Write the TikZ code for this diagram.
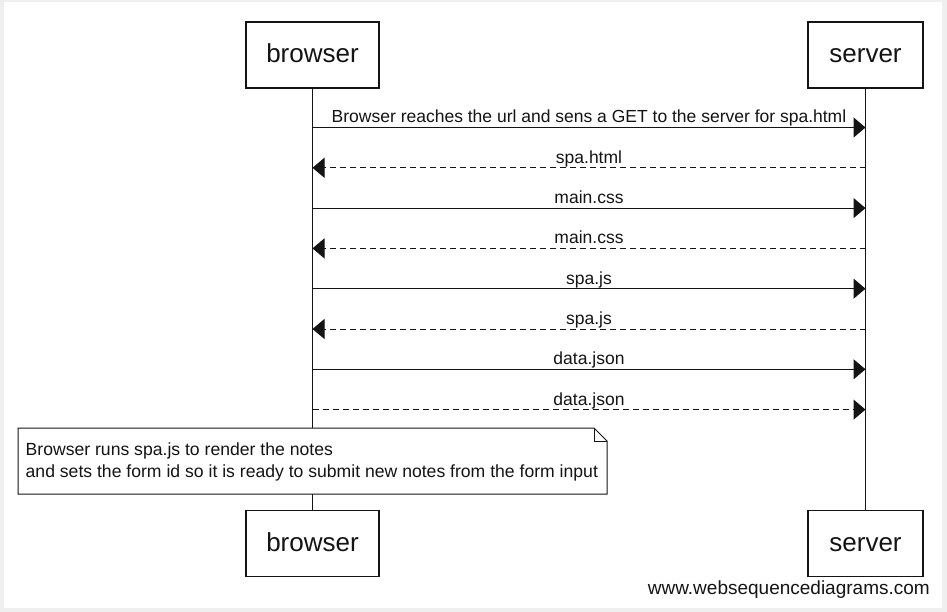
\documentclass[tikz,border=0pt]{standalone}
\usepackage{fontspec}
\setmainfont{Liberation Sans}
\usetikzlibrary{arrows.meta}
\definecolor{bggray}{RGB}{239,239,239}
\definecolor{ink}{RGB}{20,20,20}
\tikzset{
  actor/.style={draw=ink, line width=1.2pt, fill=white, minimum height=66pt, inner sep=0pt,
    text height=20pt, text depth=4pt, font=\fontsize{26}{30}\selectfont, text=ink},
  lifeline/.style={draw=ink, line width=1.1pt},
  msg/.style={draw=ink, line width=1pt, -{Triangle[length=12pt,width=20pt]}},
  reply/.style={msg, dash pattern=on 6pt off 4pt},
  lbl/.style={font=\fontsize{17.5}{22}\selectfont, text=ink, anchor=base, inner sep=0pt, yshift=4.5pt},
  notetext/.style={anchor=west, inner sep=0pt, align=left, font=\fontsize{17.6}{22}\selectfont, text=ink},
  noteline/.style={draw=ink, line width=1pt, fill=white},
  wmark/.style={font=\fontsize{19}{22}\selectfont, text=ink, anchor=base east, inner sep=0pt}
}
\begin{document}
\begin{tikzpicture}[x=1pt,y=-1pt]
\useasboundingbox (0,0) rectangle (947,612);
\fill[bggray] (0,0) rectangle (947,612);
\fill[white] (4,2.5) rectangle (941.5,608);
% actors
\node[actor, minimum width=133pt] (bt) at (312.5,55) {browser};
\node[actor, minimum width=115pt] (st) at (865.5,55) {server};
\node[actor, minimum width=133pt] (bb) at (312.5,543.5) {browser};
\node[actor, minimum width=115pt] (sb) at (865.5,543.5) {server};
% lifelines
\draw[lifeline] (bt.south) -- (bb.north);
\draw[lifeline] (st.south) -- (sb.north);
% message coordinates
\foreach \i/\y in {1/127.5,2/167.8,3/208.1,4/248.4,5/288.7,6/329,7/369.3,8/409.6}{
  \coordinate (b\i) at (312.5,\y);
  \coordinate (s\i) at (865.5,\y);
}
\draw[msg] (b1) -- (s1) node[lbl, midway] {Browser reaches the url and sens a GET to the server for spa.html};
\draw[reply] (s2) -- (b2) node[lbl, midway] {spa.html};
\draw[msg] (b3) -- (s3) node[lbl, midway] {main.css};
\draw[reply] (s4) -- (b4) node[lbl, midway] {main.css};
\draw[msg] (b5) -- (s5) node[lbl, midway] {spa.js};
\draw[reply] (s6) -- (b6) node[lbl, midway] {spa.js};
\draw[msg] (b7) -- (s7) node[lbl, midway] {data.json};
\draw[reply] (b8) -- (s8) node[lbl, midway] {data.json};
% note
\path[noteline] (18,428) -- (594,428) -- (607,441) -- (607,494) -- (18,494) -- cycle;
\draw[ink, line width=1pt] (594,428) -- (594,441) -- (607,441);
\node[notetext] (note) at (25.5,461.5) {Browser runs spa.js to render the notes\\and sets the form id so it is ready to submit new notes from the form input};
% watermark
\node[wmark] (wm) at (930,594) {www.websequencediagrams.com};
\end{tikzpicture}
\end{document}
